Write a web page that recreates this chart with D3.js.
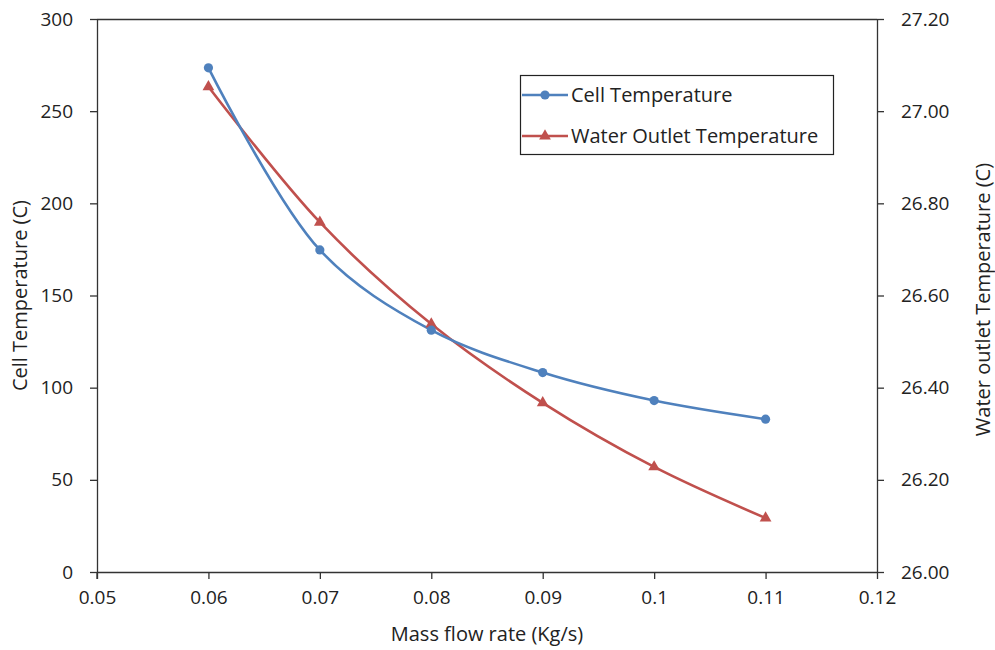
<!DOCTYPE html>
<html><head><meta charset="utf-8">
<script src="https://cdn.jsdelivr.net/npm/d3@7"></script>
<style>body{margin:0;background:#fff}text{font-family:"Open Sans",sans-serif;fill:#222}</style>
</head><body><svg id="c" width="995" height="650"></svg>
<script>
const flowRates = [0.06, 0.07, 0.08, 0.09, 0.10, 0.11];
const cellTemp = [273.5, 174.7, 131.2, 108.2, 93.0, 82.9];
const waterOutletTemp = [27.053, 26.759, 26.538, 26.367, 26.228, 26.117];
const xTicks = [0.05, 0.06, 0.07, 0.08, 0.09, 0.10, 0.11, 0.12];
const xTickLabels = ["0.05","0.06","0.07","0.08","0.09","0.1","0.11","0.12"];
const leftTicks = [0, 50, 100, 150, 200, 250, 300];
const rightTicks = [26.0, 26.2, 26.4, 26.6, 26.8, 27.0, 27.2];
const seriesNames = ["Cell Temperature", "Water Outlet Temperature"];
const colors = ["#4F81BD", "#C0504D"];

const svg = d3.select("#c");
const L = 97, R = 877, T = 19, B = 572;
const x = d3.scaleLinear().domain([0.05, 0.12]).range([L, R]);
const yL = d3.scaleLinear().domain([0, 300]).range([B, T]);
const yR = d3.scaleLinear().domain([26.0, 27.2]).range([B, T]);

svg.append("line").attr("x1", L).attr("x2", R).attr("y1", T + 0.5).attr("y2", T + 0.5).attr("stroke", "#333").attr("stroke-width", 1.3);

const fs = "19px";
const gx = svg.append("g").attr("transform", `translate(0,${B})`)
  .call(d3.axisBottom(x).tickValues(xTicks).tickFormat((d, i) => xTickLabels[i]).tickSize(7).tickSizeOuter(0).tickPadding(12));
const gl = svg.append("g").attr("transform", `translate(${L},0)`)
  .call(d3.axisLeft(yL).tickValues(leftTicks).tickSize(7).tickSizeOuter(0).tickPadding(17));
const gr = svg.append("g").attr("transform", `translate(${R},0)`)
  .call(d3.axisRight(yR).tickValues(rightTicks).tickFormat(d3.format(".2f")).tickSize(7).tickSizeOuter(0).tickPadding(17));
[gx, gl, gr].forEach(g => {
  g.selectAll("path.domain").attr("stroke", "#333").attr("stroke-width", 1.3);
  g.selectAll(".tick line").attr("stroke", "#333").attr("stroke-width", 1.3);
  g.selectAll("text").attr("font-size", fs).attr("font-family", "'Open Sans',sans-serif").attr("fill", "#222");
});
svg.append("line").attr("x1", L).attr("x2", L).attr("y1", B).attr("y2", B + 7).attr("stroke", "#333").attr("stroke-width", 1.3);

svg.append("text").attr("x", (L + R) / 2).attr("y", 641).attr("text-anchor", "middle").attr("font-size", "20px").text("Mass flow rate (Kg/s)");
svg.append("text").attr("transform", `translate(27,${(T + B) / 2}) rotate(-90)`).attr("text-anchor", "middle").attr("font-size", "20px").text("Cell Temperature (C)");
svg.append("text").attr("transform", `translate(990,${(T + B) / 2 + 4}) rotate(-90)`).attr("text-anchor", "middle").attr("font-size", "20px").text("Water outlet Temperature (C)");

const curve = d3.curveCatmullRom.alpha(0.5);
const lineL = d3.line().x((d, i) => x(flowRates[i])).y(d => yL(d)).curve(curve);
const lineR = d3.line().x((d, i) => x(flowRates[i])).y(d => yR(d)).curve(curve);

svg.append("path").attr("d", lineR(waterOutletTemp)).attr("fill", "none").attr("stroke", colors[1]).attr("stroke-width", 2.6);
svg.append("path").attr("d", lineL(cellTemp)).attr("fill", "none").attr("stroke", colors[0]).attr("stroke-width", 2.6);

const tri = d3.symbol().type(d3.symbolTriangle).size(60);
svg.selectAll(".wm").data(waterOutletTemp).enter().append("path")
  .attr("transform", (d, i) => `translate(${x(flowRates[i])},${yR(d)})`).attr("d", tri).attr("fill", colors[1]);
svg.selectAll(".cm").data(cellTemp).enter().append("circle")
  .attr("cx", (d, i) => x(flowRates[i])).attr("cy", d => yL(d)).attr("r", 4.6).attr("fill", colors[0]);

const lg = svg.append("g");
lg.append("rect").attr("x", 520.5).attr("y", 75.5).attr("width", 313).attr("height", 79).attr("fill", "#fff").attr("stroke", "#222").attr("stroke-width", 1.2);
const rows = [95, 136];
seriesNames.forEach((name, i) => {
  lg.append("line").attr("x1", 522).attr("x2", 568).attr("y1", rows[i]).attr("y2", rows[i]).attr("stroke", colors[i]).attr("stroke-width", 2.6);
  if (i === 0) lg.append("circle").attr("cx", 545).attr("cy", rows[i]).attr("r", 4.6).attr("fill", colors[0]);
  else lg.append("path").attr("transform", `translate(545,${rows[i]})`).attr("d", tri).attr("fill", colors[1]);
  lg.append("text").attr("x", 571).attr("y", rows[i]).attr("dy", "0.35em").attr("font-size", "20px").text(name);
});
</script></body></html>
